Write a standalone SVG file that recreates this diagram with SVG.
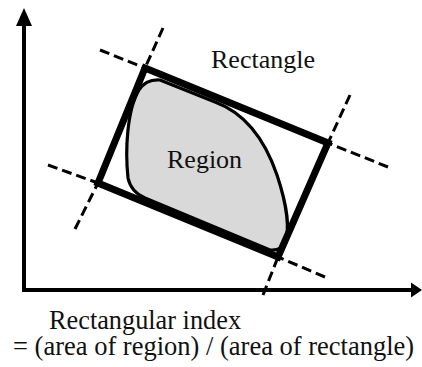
<svg xmlns="http://www.w3.org/2000/svg" width="422" height="367" viewBox="0 0 422 367">
<style>
.axis{fill:none;stroke:#000;stroke-width:4;stroke-linejoin:miter}
.head{fill:#000;stroke:none}
.dash{fill:none;stroke:#000;stroke-width:3;stroke-dasharray:10 5}
.rect{fill:none;stroke:#000;stroke-width:7;stroke-linejoin:miter}
.region{fill:#d9d9d9;stroke:#000;stroke-width:3.2;stroke-linejoin:round}
.lbl{fill:#111}
</style>
<g id="axes">
<path class="axis" d="M24,26 V290 H412"/>
<polygon class="head" points="24,8 16,26 32,26"/>
<polygon class="head" points="422,290 411,282.5 411,297.5"/>
</g>
<g id="connectors">
<line class="dash" x1="100" y1="50" x2="145" y2="68"/>
<line class="dash" x1="388" y1="167" x2="328" y2="143"/>
<line class="dash" x1="163" y1="28" x2="145" y2="68"/>
<line class="dash" x1="75" y1="229" x2="98" y2="183"/>
<line class="dash" x1="48" y1="165" x2="98" y2="183"/>
<line class="dash" x1="325" y1="277" x2="278" y2="257"/>
<line class="dash" x1="350" y1="95" x2="328" y2="143"/>
<line class="dash" x1="263" y1="295" x2="278" y2="257"/>
</g>
<g id="region">
<path class="region" d="M160,80 L215,102 C245,113 265,140 277,175 C287,205 290,230 285,243 Q281,251 270,250 L145,198 Q131,192 128,178 C125,150 127,110 139,90 Q146,79 160,80 Z"/>
<text class="lbl" x="167" y="168" font-family="Liberation Serif, Times New Roman, Tinos, serif" font-size="26">Region</text>
</g>
<g id="rectangle">
<polygon class="rect" points="145,68 328,143 278,257 98,183"/>
<text class="lbl" x="211" y="68" font-family="Liberation Serif, Times New Roman, Tinos, serif" font-size="26">Rectangle</text>
</g>
<g id="caption">
<text class="lbl" x="49" y="329" font-family="Liberation Serif, Times New Roman, Tinos, serif" font-size="26.3">Rectangular index</text>
<text class="lbl" x="13" y="355" font-family="Liberation Serif, Times New Roman, Tinos, serif" font-size="26.5">= (area of region) / (area of rectangle)</text>
</g>
</svg>
